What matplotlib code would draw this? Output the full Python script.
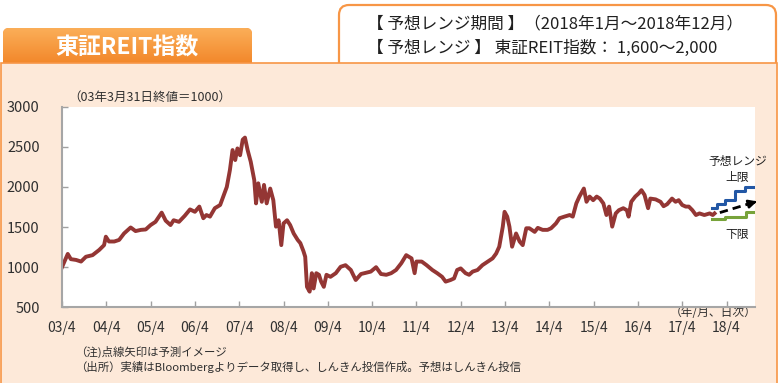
import matplotlib
matplotlib.use("Agg")
import matplotlib.pyplot as plt
import numpy as np
from matplotlib.patches import FancyBboxPatch, Rectangle
from matplotlib.colors import LinearSegmentedColormap

plt.rcParams['font.family'] = ['Noto Sans CJK JP', 'DejaVu Sans']

# 東証REIT指数 (03/3/31 = 1000), decimal years
t = [2003.25, 2003.38, 2003.45, 2003.57, 2003.68, 2003.79, 2003.94, 2004.09, 2004.20, 2004.24,
     2004.31, 2004.43, 2004.54, 2004.65, 2004.80, 2004.91, 2005.03, 2005.14, 2005.25, 2005.36,
     2005.50, 2005.59, 2005.70, 2005.77, 2005.89, 2006.02, 2006.14, 2006.25, 2006.35, 2006.44,
     2006.51, 2006.59, 2006.70, 2006.82, 2006.89, 2006.97, 2007.04, 2007.10, 2007.16, 2007.21,
     2007.27, 2007.33, 2007.38, 2007.44, 2007.51, 2007.59, 2007.63, 2007.68, 2007.76, 2007.81,
     2007.87, 2007.95, 2008.02, 2008.08, 2008.14, 2008.20, 2008.25, 2008.33, 2008.40, 2008.48,
     2008.57, 2008.63, 2008.70, 2008.74, 2008.78, 2008.84, 2008.89, 2008.93, 2008.99, 2009.05,
     2009.10, 2009.16, 2009.22, 2009.31, 2009.43, 2009.54, 2009.65, 2009.77, 2009.88, 2010.00,
     2010.11, 2010.22, 2010.34, 2010.45, 2010.57, 2010.68, 2010.79, 2010.91, 2011.02, 2011.14,
     2011.21, 2011.25, 2011.37, 2011.48, 2011.61, 2011.72, 2011.83, 2011.91, 2012.02, 2012.10,
     2012.17, 2012.25, 2012.36, 2012.44, 2012.52, 2012.63, 2012.74, 2012.86, 2012.97, 2013.05,
     2013.12, 2013.20, 2013.24, 2013.30, 2013.35, 2013.41, 2013.50, 2013.58, 2013.65, 2013.73,
     2013.80, 2013.92, 2013.99, 2014.10, 2014.21, 2014.29, 2014.40, 2014.48, 2014.59, 2014.71,
     2014.78, 2014.86, 2014.93, 2015.03, 2015.09, 2015.16, 2015.24, 2015.32, 2015.39, 2015.47,
     2015.54, 2015.60, 2015.67, 2015.75, 2015.82, 2015.92, 2016.00, 2016.04, 2016.10, 2016.19,
     2016.27, 2016.33, 2016.40, 2016.48, 2016.53, 2016.65, 2016.76, 2016.83, 2016.91, 2017.02,
     2017.10, 2017.17, 2017.25, 2017.33, 2017.40, 2017.48, 2017.56, 2017.64, 2017.75, 2017.87,
     2017.94, 2017.98]
reit = [1000, 1165, 1100, 1090, 1070, 1130, 1150, 1215, 1275, 1380,
        1320, 1320, 1340, 1420, 1495, 1450, 1465, 1470, 1525, 1565,
        1680, 1580, 1525, 1585, 1565, 1640, 1720, 1690, 1755, 1610,
        1650, 1630, 1735, 1775, 1880, 2000, 2210, 2460, 2335, 2480,
        2395, 2590, 2615, 2460, 2315, 2085, 1795, 2045, 1815, 2025,
        1795, 1980, 1835, 1505, 1585, 1275, 1545, 1585, 1525, 1420,
        1340, 1300, 1200, 1130, 755, 695, 925, 735, 925, 905,
        820, 755, 905, 880, 925, 1005, 1025, 965, 840, 915,
        930, 945, 1000, 915, 905, 925, 965, 1050, 1150, 1110,
        925, 1070, 1070, 1025, 965, 925, 880, 820, 840, 860,
        965, 985, 925, 905, 945, 965, 1025, 1070, 1110, 1170,
        1255, 1505, 1690, 1630, 1505, 1255, 1420, 1320, 1275, 1485,
        1485, 1440, 1490, 1465, 1465, 1485, 1545, 1610, 1630, 1650,
        1630, 1795, 1880, 1980, 1815, 1880, 1835, 1880, 1855, 1795,
        1650, 1755, 1505, 1670, 1710, 1735, 1710, 1630, 1815, 1880,
        1920, 1960, 1900, 1735, 1855, 1845, 1815, 1760, 1785, 1855,
        1815, 1835, 1775, 1755, 1755, 1710, 1650, 1670, 1650, 1670,
        1650, 1670]

# 予想レンジ (2018)
upper_t = [2017.92, 2018.03, 2018.22, 2018.44, 2018.67, 2018.89]
upper_v = [1740, 1790, 1840, 1950, 2000, 2000]
lower_t = [2017.92, 2018.22, 2018.70, 2018.89]
lower_v = [1595, 1625, 1685, 1685]
arrow_t = [2018.10, 2019.00]
arrow_v = [1680, 1830]

xticks = [2003.25 + i for i in range(16)]
xlabels = ["%02d/4" % (3 + i) for i in range(16)]
yticks = [500, 1000, 1500, 2000, 2500, 3000]

W, H = 780, 383
fig = plt.figure(figsize=(W / 100, H / 100), dpi=100)
fig.patch.set_facecolor('white')

# background decoration in pixel coordinates
bg = fig.add_axes([0, 0, 1, 1])
bg.set_xlim(0, W)
bg.set_ylim(H, 0)
bg.axis('off')

orange = '#F79646'
box = FancyBboxPatch((339, 5), 437, 80, boxstyle="round,pad=0,rounding_size=10",
                     fc='white', ec=orange, lw=1.6, zorder=1)
bg.add_patch(box)

tab = FancyBboxPatch((3, 28), 249, 45, boxstyle="round,pad=0,rounding_size=6",
                     fc='#F58A2C', ec='none', zorder=1)
bg.add_patch(tab)
cmap = LinearSegmentedColormap.from_list('tab', ['#FBAE58', '#F07D1E'])
grad = np.linspace(0, 1, 64).reshape(-1, 1)
im = bg.imshow(grad, extent=(3, 252, 73, 28), cmap=cmap, aspect='auto',
               origin='upper', zorder=1.5)
im.set_clip_path(tab)

panel = Rectangle((0.8, 63), 776, 322, fc='#FDE9D9', ec=orange, lw=1.2, zorder=2)
bg.add_patch(panel)
bg.set_xlim(0, W)
bg.set_ylim(H, 0)

bg.text(127, 48, "東証REIT指数", color='white', fontsize=16.5, fontweight='bold',
        ha='center', va='center', zorder=3)
bg.text(367, 24, "【 予想レンジ期間 】（2018年1月～2018年12月）", fontsize=12,
        ha='left', va='center', color='#202020', zorder=3)
bg.text(367, 48, "【 予想レンジ 】 東証REIT指数： 1,600～2,000", fontsize=12,
        ha='left', va='center', color='#202020', zorder=3)
bg.text(68, 97, "（03年3月31日終値＝1000）", fontsize=9, ha='left', va='center',
        color='#303030', zorder=3)
bg.text(757, 313, "（年/月、日次）", fontsize=8.5, ha='right', va='center',
        color='#303030', zorder=3)
bg.text(75, 352, "（注)点線矢印は予測イメージ", fontsize=8.2, ha='left', va='center',
        color='#303030', zorder=3)
bg.text(75, 367, "（出所）実績はBloombergよりデータ取得し、しんきん投信作成。予想はしんきん投信",
        fontsize=8.2, ha='left', va='center', color='#303030', zorder=3)

# main chart
ax = fig.add_axes([62 / W, 1 - 307.3 / H, (755 - 62) / W, (307.3 - 106.7) / H])
ax.set_facecolor('white')
ax.plot(t, reit, color='#943634', lw=2.8, solid_joinstyle='round')
ax.step(upper_t, upper_v, where='post', color='#2257A5', lw=2.2)
ax.step(lower_t, lower_v, where='post', color='#77A33A', lw=2.2)
ax.plot([arrow_t[0], arrow_t[1] - 0.12],
        [arrow_v[0], arrow_v[0] + (arrow_v[1] - arrow_v[0]) * 0.87],
        color='black', lw=2, ls=(0, (3, 1.8)), clip_on=False)
ax.annotate("", xy=(arrow_t[1], arrow_v[1]), xytext=(arrow_t[1] - 0.2, arrow_v[1] - 33),
            arrowprops=dict(arrowstyle='-|>', color='black', lw=1.8, mutation_scale=12),
            annotation_clip=False)

ax.text(2018.5, 2320, "予想レンジ", fontsize=8.5, ha='center', va='center', color='#202020')
ax.text(2018.5, 2120, "上限", fontsize=8.5, ha='center', va='center', color='#202020')
ax.text(2018.5, 1410, "下限", fontsize=8.5, ha='center', va='center', color='#202020')

ax.set_xlim(2003.25, 2003.25 + 693 / 44.3)
ax.set_ylim(500, 3000)
ax.set_xticks(xticks)
ax.set_xticklabels(xlabels)
ax.set_yticks(yticks)
ax.tick_params(axis='x', direction='in', length=4, width=1, color='#A0A0A0',
               labelsize=10, labelcolor='#303030', pad=10)
ax.tick_params(axis='y', direction='in', length=4, width=1, color='#A0A0A0',
               labelsize=10.5, labelcolor='#303030', pad=16)
for s in ['top', 'right']:
    ax.spines[s].set_visible(False)
for s in ['left', 'bottom']:
    ax.spines[s].set_color('#A6A6A6')
    ax.spines[s].set_linewidth(1.5)

fig.savefig("out.png", dpi=100)
